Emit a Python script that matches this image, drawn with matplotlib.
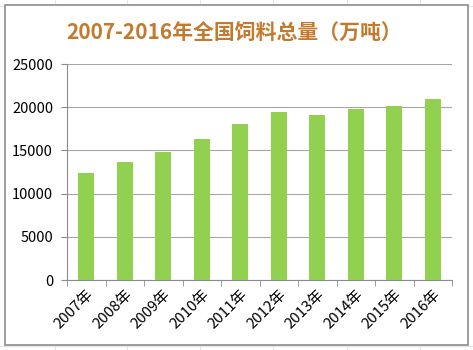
import matplotlib.pyplot as plt
from matplotlib.patches import Rectangle
from matplotlib.lines import Line2D

plt.rcParams['font.family'] = ['Noto Sans CJK SC', 'DejaVu Sans']

years = ['2007年', '2008年', '2009年', '2010年', '2011年',
         '2012年', '2013年', '2014年', '2015年', '2016年']
feed = [12400, 13700, 14800, 16300, 18100, 19500, 19100, 19800, 20100, 20900]
yticks = [0, 5000, 10000, 15000, 20000, 25000]

fig = plt.figure(figsize=(4.73, 3.5), dpi=100)

# excel sheet grid behind the chart
for x in [55, 127, 200, 273, 347, 420]:
    fig.add_artist(Line2D([x / 473, x / 473], [0, 1], color='#e4e4e4', lw=0.8, zorder=-3))
for y in [6, 346]:
    fig.add_artist(Line2D([0, 1], [1 - y / 350, 1 - y / 350], color='#e4e4e4', lw=0.8, zorder=-3))
fig.add_artist(Rectangle((5 / 473, 5 / 350), 463 / 473, 340 / 350, transform=fig.transFigure,
                         facecolor='white', edgecolor='#8c8c8c', lw=1.2, zorder=-2))

ax = fig.add_axes([67 / 473, 70 / 350, 385 / 473, 216 / 350])
ax.patch.set_alpha(0)
x = range(len(years))
ax.bar(x, feed, width=0.42, color='#92D050', zorder=3)

ax.set_ylim(0, 25000)
ax.set_xlim(-0.5, len(years) - 0.5)
ax.set_yticks(yticks)
ax.set_yticklabels([str(v) for v in yticks], fontsize=10.5)
ax.yaxis.grid(True, color='#a6a6a6', lw=0.8, zorder=0)
ax.set_xticks(list(x))
ax.set_xticklabels(years, rotation=45, ha='right', va='top', fontsize=10.8,
                   rotation_mode='anchor')
ax.tick_params(axis='x', length=0, pad=5)
ax.set_xticks([i - 0.5 for i in range(len(years) + 1)], minor=True)
ax.tick_params(axis='x', which='minor', length=4, color='#8c8c8c', direction='out')
ax.tick_params(axis='y', length=4, color='#8c8c8c', pad=6)

for s in ['top', 'right']:
    ax.spines[s].set_visible(False)
for s in ['left', 'bottom']:
    ax.spines[s].set_color('#8c8c8c')

fig.text(234 / 473, 1 - 33 / 350, '2007-2016年全国饲料总量（万吨）', ha='center', va='center',
         fontsize=15, fontweight='bold', color='#C47A2C')

fig.savefig('out.png', dpi=100)
